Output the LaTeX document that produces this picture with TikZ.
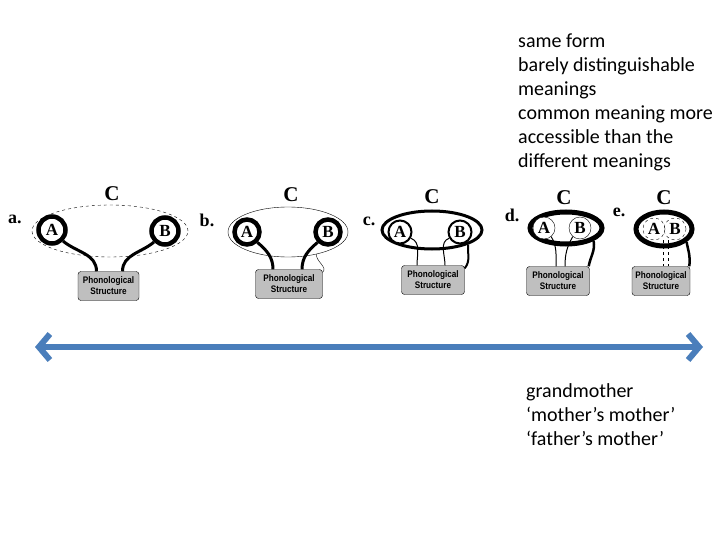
\documentclass[tikz,border=0pt]{standalone}
\usepackage{fontspec}
\setmainfont{Carlito}
\newfontfamily\serf{Liberation Serif}
\newfontfamily\sanb[FakeStretch=0.86]{Liberation Sans}
\usetikzlibrary{shapes.geometric,arrows.meta}
\definecolor{arrowblue}{HTML}{4A7EBB}
\begin{document}
\begin{tikzpicture}[x=1pt,y=1pt,
  lbl/.style={font=\serf\bfseries\fontsize{18}{18}\selectfont, inner sep=0},
  clbl/.style={font=\serf\bfseries\fontsize{21}{21}\selectfont, inner sep=0},
  circ/.style={circle, draw, fill=white, inner sep=0, minimum size=#1, font=\serf\bfseries\fontsize{17}{17}\selectfont},
  ell/.style={ellipse, draw, inner sep=0},
  ps/.style={draw, rounded corners=3pt, fill=gray!50, minimum width=#1, minimum height=29, align=center, inner sep=1pt, font=\sanb\bfseries\fontsize{9.5}{11}\selectfont},
  link/.style={line width=3pt},
  slink/.style={line width=1pt},
  txt/.style={anchor=north west, align=left, inner sep=0, font=\fontsize{20}{24}\selectfont},
]
\useasboundingbox (0,0) rectangle (720,-540);

% texts
\node[txt] (t1) at (518,-34) {same form\\barely distinguishable\\meanings\\common meaning more\\accessible than the\\different meanings};
\node[txt] (t2) at (526,-383) {grandmother\\‘mother’s mother’\\‘father’s mother’};

% arrow
\coordinate (L) at (35,-347);
\coordinate (R) at (703,-347);
\draw[line width=6pt, arrowblue, {Straight Barb[length=11pt,width=26pt]}-{Straight Barb[length=11pt,width=26pt]}] (L) -- (R);

% ---------- panel a
\node[lbl] (la) at (15,-219) {a.};
\node[clbl] (Cla) at (112,-194) {C};
\node[ell, dashed, thin, minimum width=156, minimum height=52] (Ca) at (110,-231) {};
\node[circ=27, line width=4.5pt] (Aa) at (52,-230) {A};
\node[circ=27, line width=4.5pt] (Ba) at (165,-231) {B};
\node[ps=61] (Pa) at (108.5,-286) {Phonological\\Structure};
\draw[link] (Aa.-45) to[out=-40,in=90] ([xshift=-12pt]Pa.north);
\draw[link] (Ba.225) to[out=220,in=90] ([xshift=14pt]Pa.north);

% ---------- panel b
\node[lbl] (lb) at (207,-220) {b.};
\node[clbl] (Clb) at (291,-195) {C};
\node[ell, thin, minimum width=120, minimum height=50] (Cb) at (288,-232) {};
\node[circ=25, line width=4.5pt] (Ab) at (247,-232) {A};
\node[circ=25, line width=4.5pt] (Bb) at (328,-232) {B};
\node[ps=67] (Pb) at (289,-284) {Phonological\\Structure};
\draw[link] (Ab.-45) to[out=-40,in=90] ([xshift=-16pt]Pb.north);
\draw[link] (Bb.225) to[out=220,in=90] ([xshift=13pt]Pb.north);
\draw[thin] (Cb.-38) to[out=-95,in=45] ([yshift=-3pt]Pb.north east);

% ---------- panel c
\node[lbl] (lc) at (369,-221) {c.};
\node[clbl] (Clc) at (432,-197) {C};
\node[ell, line width=3pt, minimum width=100, minimum height=38] (Cc) at (432,-230) {};
\node[circ=23, line width=2pt] (Ac) at (400,-232) {A};
\node[circ=23, line width=2pt] (Bc) at (460,-232) {B};
\node[ps=63] (Pc) at (433,-280) {Phonological\\Structure};
\draw[slink] (Ac.-30) to[out=-20,in=90] ([xshift=-16pt]Pc.north);
\draw[slink] (Bc.210) to[out=200,in=90] ([xshift=12pt]Pc.north);
\draw[line width=2pt] (Cc.-22) to[out=-95,in=50] ([yshift=-3pt]Pc.north east);

% ---------- panel d
\node[lbl] (ld) at (512,-215) {d.};
\node[clbl] (Cld) at (564,-198) {C};
\node[ell, line width=5pt, minimum width=72, minimum height=32] (Cd) at (566,-228) {};
\node[circ=22, thin] (Ad) at (544,-228) {A};
\node[circ=22, thin] (Bd) at (580,-228) {B};
\node[ps=63] (Pd) at (558,-281) {Phonological\\Structure};
\draw[slink] (Ad.-50) to[out=-60,in=90] ([xshift=-2pt]Pd.north);
\draw[slink] (Bd.230) to[out=240,in=90] ([xshift=7pt]Pd.north);
\draw[line width=2.5pt] (Cd.-25) to[out=-80,in=80] ([xshift=-1pt]Pd.north east);

% ---------- panel e
\node[lbl] (le) at (619,-212) {e.};
\node[clbl] (Cle) at (664,-198) {C};
\node[ell, line width=5pt, minimum width=56, minimum height=34] (Ce) at (664,-229) {};
\node[circ=22, dashed, thin, fill=none] (Ae) at (654,-229) {A};
\node[circ=22, dashed, thin, fill=none] (Be) at (675,-229) {B};
\node[ps=58] (Pe) at (661,-281) {Phonological\\Structure};
\draw[dashed, thin] ([xshift=9pt]Ae.south) -- ([xshift=9pt]Ae.south |- Pe.north);
\draw[dashed, thin] ([xshift=-7pt]Be.south) -- ([xshift=-7pt]Be.south |- Pe.north);
\draw[line width=2.5pt] (Ce.-30) to[out=-80,in=80] ([xshift=-1pt]Pe.north east);
\end{tikzpicture}
\end{document}
